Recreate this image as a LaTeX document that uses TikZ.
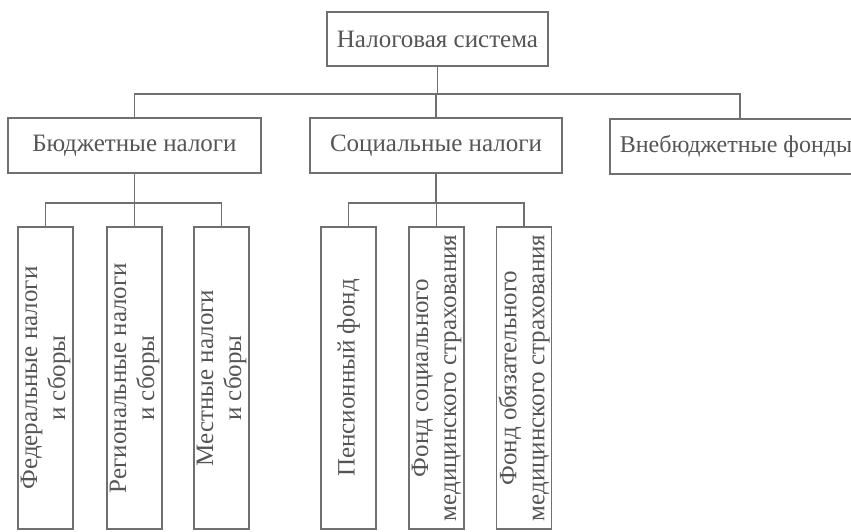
\documentclass[tikz,border=0pt]{standalone}
\usepackage{fontspec}
\setmainfont{Liberation Serif}
\definecolor{linegray}{RGB}{112,112,112}
\definecolor{textgray}{RGB}{85,85,85}
\begin{document}
\begin{tikzpicture}[x=1pt,y=-1pt,
  box/.style={draw=linegray, line width=1.7pt, inner sep=0pt, text=textgray,
    font=\fontsize{25}{28}\selectfont},
  vbox/.style={box, rotate=90, minimum width=302pt, minimum height=55pt, align=center},
  link/.style={draw=linegray, line width=1.7pt}]
\useasboundingbox[fill=white] (0,0) rectangle (851,532);
% level 0
\node[box, minimum width=221pt, minimum height=54pt] (top) at (437.5,39) {Налоговая система};
% level 1
\node[box, minimum width=253pt, minimum height=55pt] (bud) at (134.5,145.5) {Бюджетные налоги};
\node[box, minimum width=252pt, minimum height=55pt] (soc) at (436,145.5) {Социальные налоги};
\node[box, minimum width=260pt, minimum height=55pt, font=\fontsize{24}{28}\selectfont] (vne) at (740,146.5) {Внебюджетные фонды\hspace*{8pt}};
% level 2
\node[vbox] (f1) at (45.5,378) {Федеральные налоги\\и сборы};
\node[vbox] (f2) at (134.5,378) {Региональные налоги\\и сборы};
\node[vbox] (f3) at (221.5,378) {Местные налоги\\и сборы};
\node[vbox] (s1) at (348.5,378) {Пенсионный фонд};
\node[vbox] (s2) at (436.5,378) {Фонд социального\\медицинского страхования};
\node[vbox] (s3) at (524,378) {Фонд обязательного\\медицинского страхования};
% bus coordinates
\coordinate (b1) at (437.5,94);
\coordinate (b2) at (134.5,203);
\coordinate (b3) at (436,203);
% connectors
\draw[link] (top.south) -- (b1);
\draw[link] (b1) -- (b1 -| soc.north) -- (soc.north);
\draw[link] (bud.north) |- (b1) -| (vne.north);
\draw[link] (bud.south) -- (f2.east);
\draw[link] (f1.east) |- (b2) -| (f3.east);
\draw[link] (soc.south) -- (b3) -- (b3 -| s2.east) -- (s2.east);
\draw[link] (s1.east) |- (b3) -| (s3.east);
\end{tikzpicture}
\end{document}
